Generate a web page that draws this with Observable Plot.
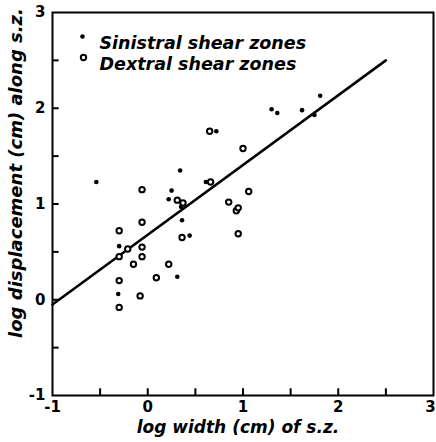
<!DOCTYPE html>
<html>
<head>
<meta charset="utf-8">
<script src="https://cdn.jsdelivr.net/npm/d3@7"></script>
<script src="https://cdn.jsdelivr.net/npm/@observablehq/plot@0.6"></script>
<style>
  html, body { margin: 0; padding: 0; background: #fff; }
  #chart svg { display: block; }
</style>
</head>
<body>
<div id="chart"></div>
<script>
// Sinistral shear zones (small solid dots): log width, log displacement
const sinistralX = [-0.54, -0.30, -0.31, 0.31, 0.44, 0.36, 0.22, 0.25, 0.35, 0.72, 0.34, 0.61, 1.30, 1.36, 1.62, 1.81, 1.75];
const sinistralY = [ 1.23,  0.56,  0.06, 0.24, 0.67, 0.83, 1.05, 1.14, 0.97, 1.76, 1.35, 1.23, 1.99, 1.95, 1.98, 2.13, 1.93];

// Dextral shear zones (open circles)
const dextralX = [-0.06, -0.06, -0.30, -0.21, -0.06, -0.30, -0.06, -0.15, 0.22, 0.09, -0.30, -0.08, -0.30, 0.36, 0.31, 0.37, 0.65, 1.00, 0.66, 1.06, 0.85, 0.93, 0.95, 0.95];
const dextralY = [ 1.15,  0.81,  0.72,  0.53,  0.55,  0.45,  0.45,  0.37, 0.37, 0.23,  0.20,  0.04, -0.08, 0.65, 1.04, 1.01, 1.76, 1.58, 1.23, 1.13, 1.02, 0.93, 0.96, 0.69];

// Fitted line endpoints
const fitX = [-1, 2.5];
const fitY = [-0.05, 2.5];

// Axis ticks
const majorTicks = [-1, 0, 1, 2, 3];
const xTicksInner = [-1, 0, 1, 2];
const xTicksEdge = [3];
const minorTicks = [-0.5, 0, 0.5, 1, 1.5, 2, 2.5];

const legendLabels = ["Sinistral shear zones", "Dextral shear zones"];
const xLabel = "log width (cm) of s.z.";
const yLabel = "log displacement (cm) along s.z.";

const sinistral = sinistralX.map((x, i) => ({x, y: sinistralY[i]}));
const dextral = dextralX.map((x, i) => ({x, y: dextralY[i]}));
const fit = fitX.map((x, i) => ({x, y: fitY[i]}));
const fmt = d => (d < 0 ? "-" + Math.abs(d) : String(d));

const font = "'DejaVu Sans', sans-serif";

const chart = Plot.plot({
  width: 436,
  height: 442,
  marginLeft: 52,
  marginRight: 3,
  marginTop: 12,
  marginBottom: 47,
  style: { fontFamily: font, background: "#fff", color: "#000" },
  x: { domain: [-1, 3] },
  y: { domain: [-1, 3] },
  marks: [
    Plot.axisX(xTicksInner, { tickSize: 0, tickPadding: 6, tickFormat: fmt, fontSize: 15, fontWeight: "bold", label: null }),
    Plot.axisX(xTicksEdge, { tickSize: 0, tickPadding: 6, tickFormat: fmt, fontSize: 15, fontWeight: "bold", label: null, dx: -3 }),
    Plot.axisY(majorTicks, { tickSize: 0, tickPadding: 7, tickFormat: fmt, fontSize: 15, fontWeight: "bold", label: null }),
    Plot.ruleX(minorTicks, { x: d => d, y1: -1, y2: -0.93, stroke: "#000", strokeWidth: 2 }),
    Plot.ruleY(minorTicks, { y: d => d, x1: -1, x2: -0.93, stroke: "#000", strokeWidth: 2 }),
    Plot.frame({ stroke: "#000", strokeWidth: 2 }),
    Plot.line(fit, { x: "x", y: "y", stroke: "#000", strokeWidth: 2.5 }),
    Plot.dot(dextral, { x: "x", y: "y", r: 2.7, fill: "#fff", stroke: "#000", strokeWidth: 2 }),
    Plot.dot(sinistral, { x: "x", y: "y", r: 2.3, fill: "#000", stroke: "none" }),
    // legend
    Plot.dot([legendLabels[0]], { frameAnchor: "top-left", dx: 30, dy: 24, r: 2.3, fill: "#000" }),
    Plot.dot([legendLabels[1]], { frameAnchor: "top-left", dx: 31, dy: 45, r: 2.7, fill: "#fff", stroke: "#000", strokeWidth: 2 }),
    Plot.text([legendLabels[0]], { text: d => d, frameAnchor: "top-left", dx: 47, dy: 24, textAnchor: "start", fontSize: 17.5, fontStyle: "italic", fontWeight: "bold" }),
    Plot.text([legendLabels[1]], { text: d => d, frameAnchor: "top-left", dx: 47, dy: 45, textAnchor: "start", fontSize: 17.5, fontStyle: "italic", fontWeight: "bold" }),
    // axis titles
    Plot.text([xLabel], { text: d => d, frameAnchor: "bottom", dy: 37, dx: -5, fontSize: 17, fontStyle: "italic", fontWeight: "bold", wordSpacing: "4px" }),
    Plot.text([yLabel], { text: d => d, frameAnchor: "left", textAnchor: "middle", dx: -36, dy: -31, rotate: -90, fontSize: 18, fontStyle: "italic", fontWeight: "bold" })
  ]
});

document.getElementById("chart").appendChild(chart);
</script>
</body>
</html>
